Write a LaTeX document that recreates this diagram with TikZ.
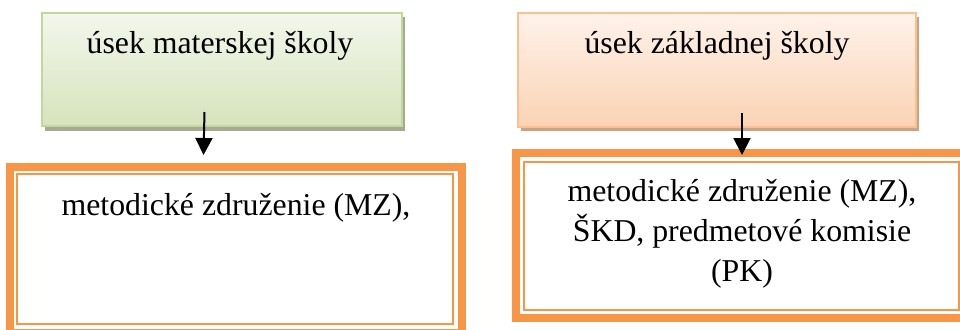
\documentclass[tikz,border=0pt]{standalone}
\usepackage{fontspec}
\setmainfont{Liberation Serif}
\usetikzlibrary{arrows.meta}
\definecolor{orangeA}{HTML}{F79646}
\definecolor{greenTop}{HTML}{F3F7EC}
\definecolor{greenBot}{HTML}{D6E3BC}
\definecolor{greenEdge}{HTML}{C3D69B}
\definecolor{greenShadow}{HTML}{A3AB91}
\definecolor{orTop}{HTML}{FEF2EA}
\definecolor{orBot}{HTML}{FAD3B3}
\definecolor{orEdge}{HTML}{FAC090}
\definecolor{orShadow}{HTML}{C9A386}
\tikzset{
  bigtext/.style={font=\fontsize{31.8}{40}\selectfont, anchor=base, inner sep=0pt, align=center},
  thickband/.style={draw=orangeA, line width=8pt},
  thinband/.style={draw=orangeA, line width=2pt},
  arr/.style={line width=2pt, -{Triangle[width=17pt,length=17pt]}},
}
\begin{document}
\begin{tikzpicture}[x=1pt,y=-1pt]
\useasboundingbox (0,0) rectangle (960,329);
\fill[white] (0,0) rectangle (960,329);
% top left box
\fill[greenShadow] (45,17) rectangle (405,131);
\shade[top color=greenTop, bottom color=greenBot, middle color=greenTop!50!greenBot] (42,13) rectangle (402,126);
\draw[greenEdge, line width=2pt] (42,13) rectangle (402,126);
\node[bigtext] (tl) at (220,53) {úsek materskej školy};
% top right box
\fill[orShadow] (521,17) rectangle (919,131);
\shade[top color=orTop, bottom color=orBot, middle color=orTop!50!orBot] (518,13) rectangle (916,127);
\draw[orEdge, line width=2pt] (518,13) rectangle (916,127);
\node[bigtext] (tr) at (717,54) {úsek základnej školy};
% bottom left box
\draw[thickband] (10,167) rectangle (461.7,333);
\draw[thinband] (17,174) rectangle (453,324);
\node[bigtext] (bl) at (236,215) {metodické združenie (MZ),};
% bottom right box
\draw[thickband] (516,153.3) rectangle (968,318);
\draw[thinband] (523.7,161.8) rectangle (958.5,310);
\node[bigtext] (br) at (742,281.7) {metodické združenie (MZ),\\ŠKD, predmetové komisie\\(PK)};
% arrows
\coordinate (a1s) at (204.5,112);
\coordinate (a1e) at (203.5,155);
\coordinate (a2s) at (742,113);
\coordinate (a2e) at (742,155);
\draw[arr] (a1s) -- (a1e);
\draw[arr] (a2s) -- (a2e);
\end{tikzpicture}
\end{document}
